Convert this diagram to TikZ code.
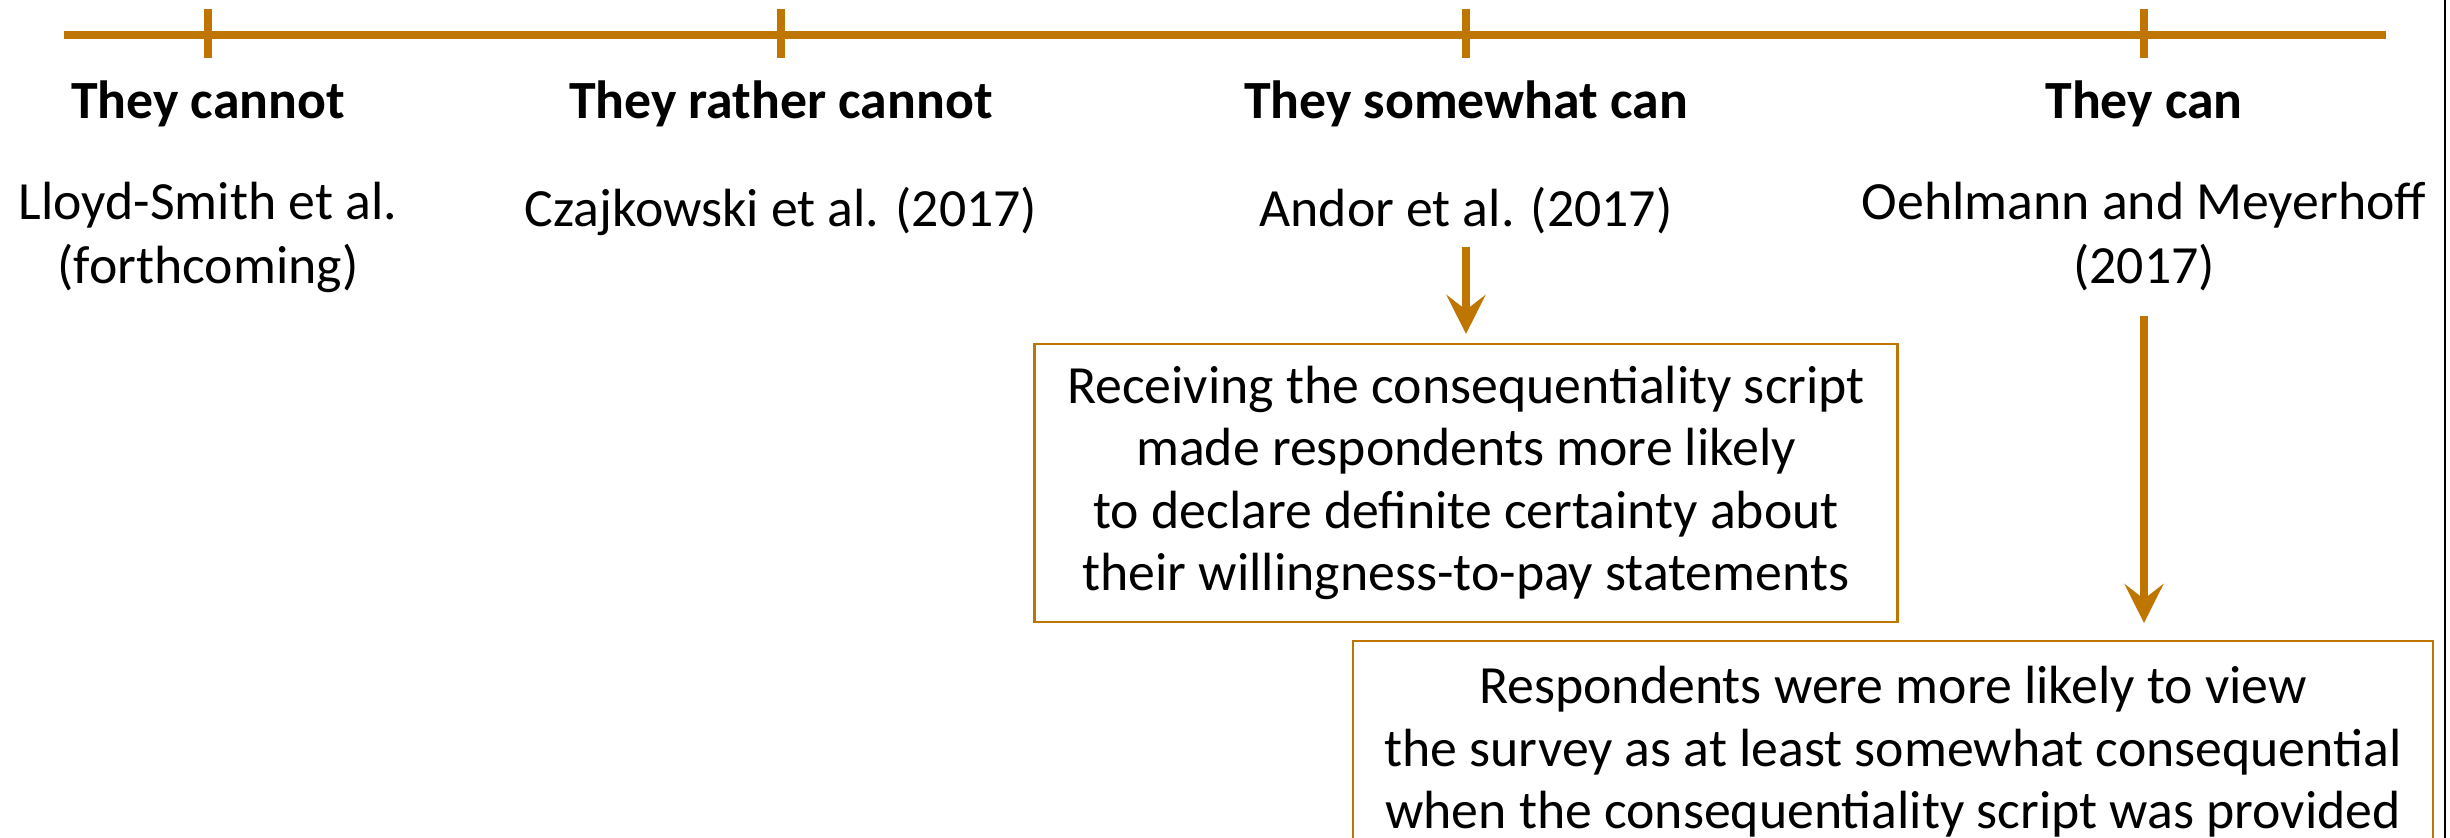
\documentclass[tikz,border=0pt]{standalone}
\usepackage{fontspec}
\setmainfont{Carlito}
\usetikzlibrary{positioning, arrows.meta}
\definecolor{ochre}{RGB}{191,118,0}
\newcommand{\bodysize}{\fontsize{15.3}{18.4}\selectfont}
\tikzset{>={Stealth[length=3.9mm, width=3.9mm, inset=1.5mm]}}
\tikzset{every text node part/.style={align=center}}
\tikzset{
	scaleline/.style={line width=2.3pt, ochre},
	tickline/.style={line width=2.3pt, ochre},
	heading/.style={font=\bodysize\bfseries, inner sep=0pt, anchor=base},
	study/.style={inner sep=0pt, anchor=north, execute at begin node=\strut},
	finding/.style={draw=ochre, line width=0.6pt, inner sep=0pt, font=\fontsize{15.3}{17.8}\selectfont},
	flow/.style={->, line width=2.3pt, ochre}
}

\begin{document}
\begin{tikzpicture}[font=\bodysize, line cap=butt]
	\clip (0,0) rectangle (24.5,-8.38);
	
	% Scale line
	\draw[scaleline] (0.64,-0.35) -- (23.86,-0.35);
	
	% Ticks, headings and studies
	\foreach \name/\x/\head/\paper in {%
		cannot/2.08/{They cannot}/{Lloyd-Smith et al.\\(forthcoming)},
		rather/7.81/{They rather cannot}/{Czajkowski et al. (2017)},
		somewhat/14.66/{They somewhat can}/{Andor et al. (2017)},
		can/21.44/{They can}/{Oehlmann and Meyerhoff\\(2017)}}
	{
		\draw[tickline] (\x,-0.09) -- (\x,-0.58);
		\node[heading] (head-\name) at (\x,-1.19) {\head};
		\node[study] (study-\name) at (\x,-1.81) {\paper};
	}
	
	% Findings
	\node[finding, minimum width=8.63cm, minimum height=2.78cm] (certainty) at (14.66,-4.83)
		{Receiving the consequentiality script\\made respondents more likely\\to declare definite certainty about\\their willingness-to-pay statements};
	\node[finding, minimum width=10.8cm, minimum height=2.22cm, anchor=north] (consequential) at (18.93,-6.40)
		{Respondents were more likely to view\\the survey as at least somewhat consequential\\when the consequentiality script was provided};
	
	% Arrows
	\draw[flow, shorten >=0.09cm] (study-somewhat.south) -- (study-somewhat.south |- certainty.north);
	\draw[flow, shorten <=0.12cm, shorten >=0.17cm] (study-can.south) -- (study-can.south |- consequential.north);
	
	% Right edge
	\draw[line width=0.6pt] (24.45,0) -- (24.45,-8.38);
\end{tikzpicture}
\end{document}
